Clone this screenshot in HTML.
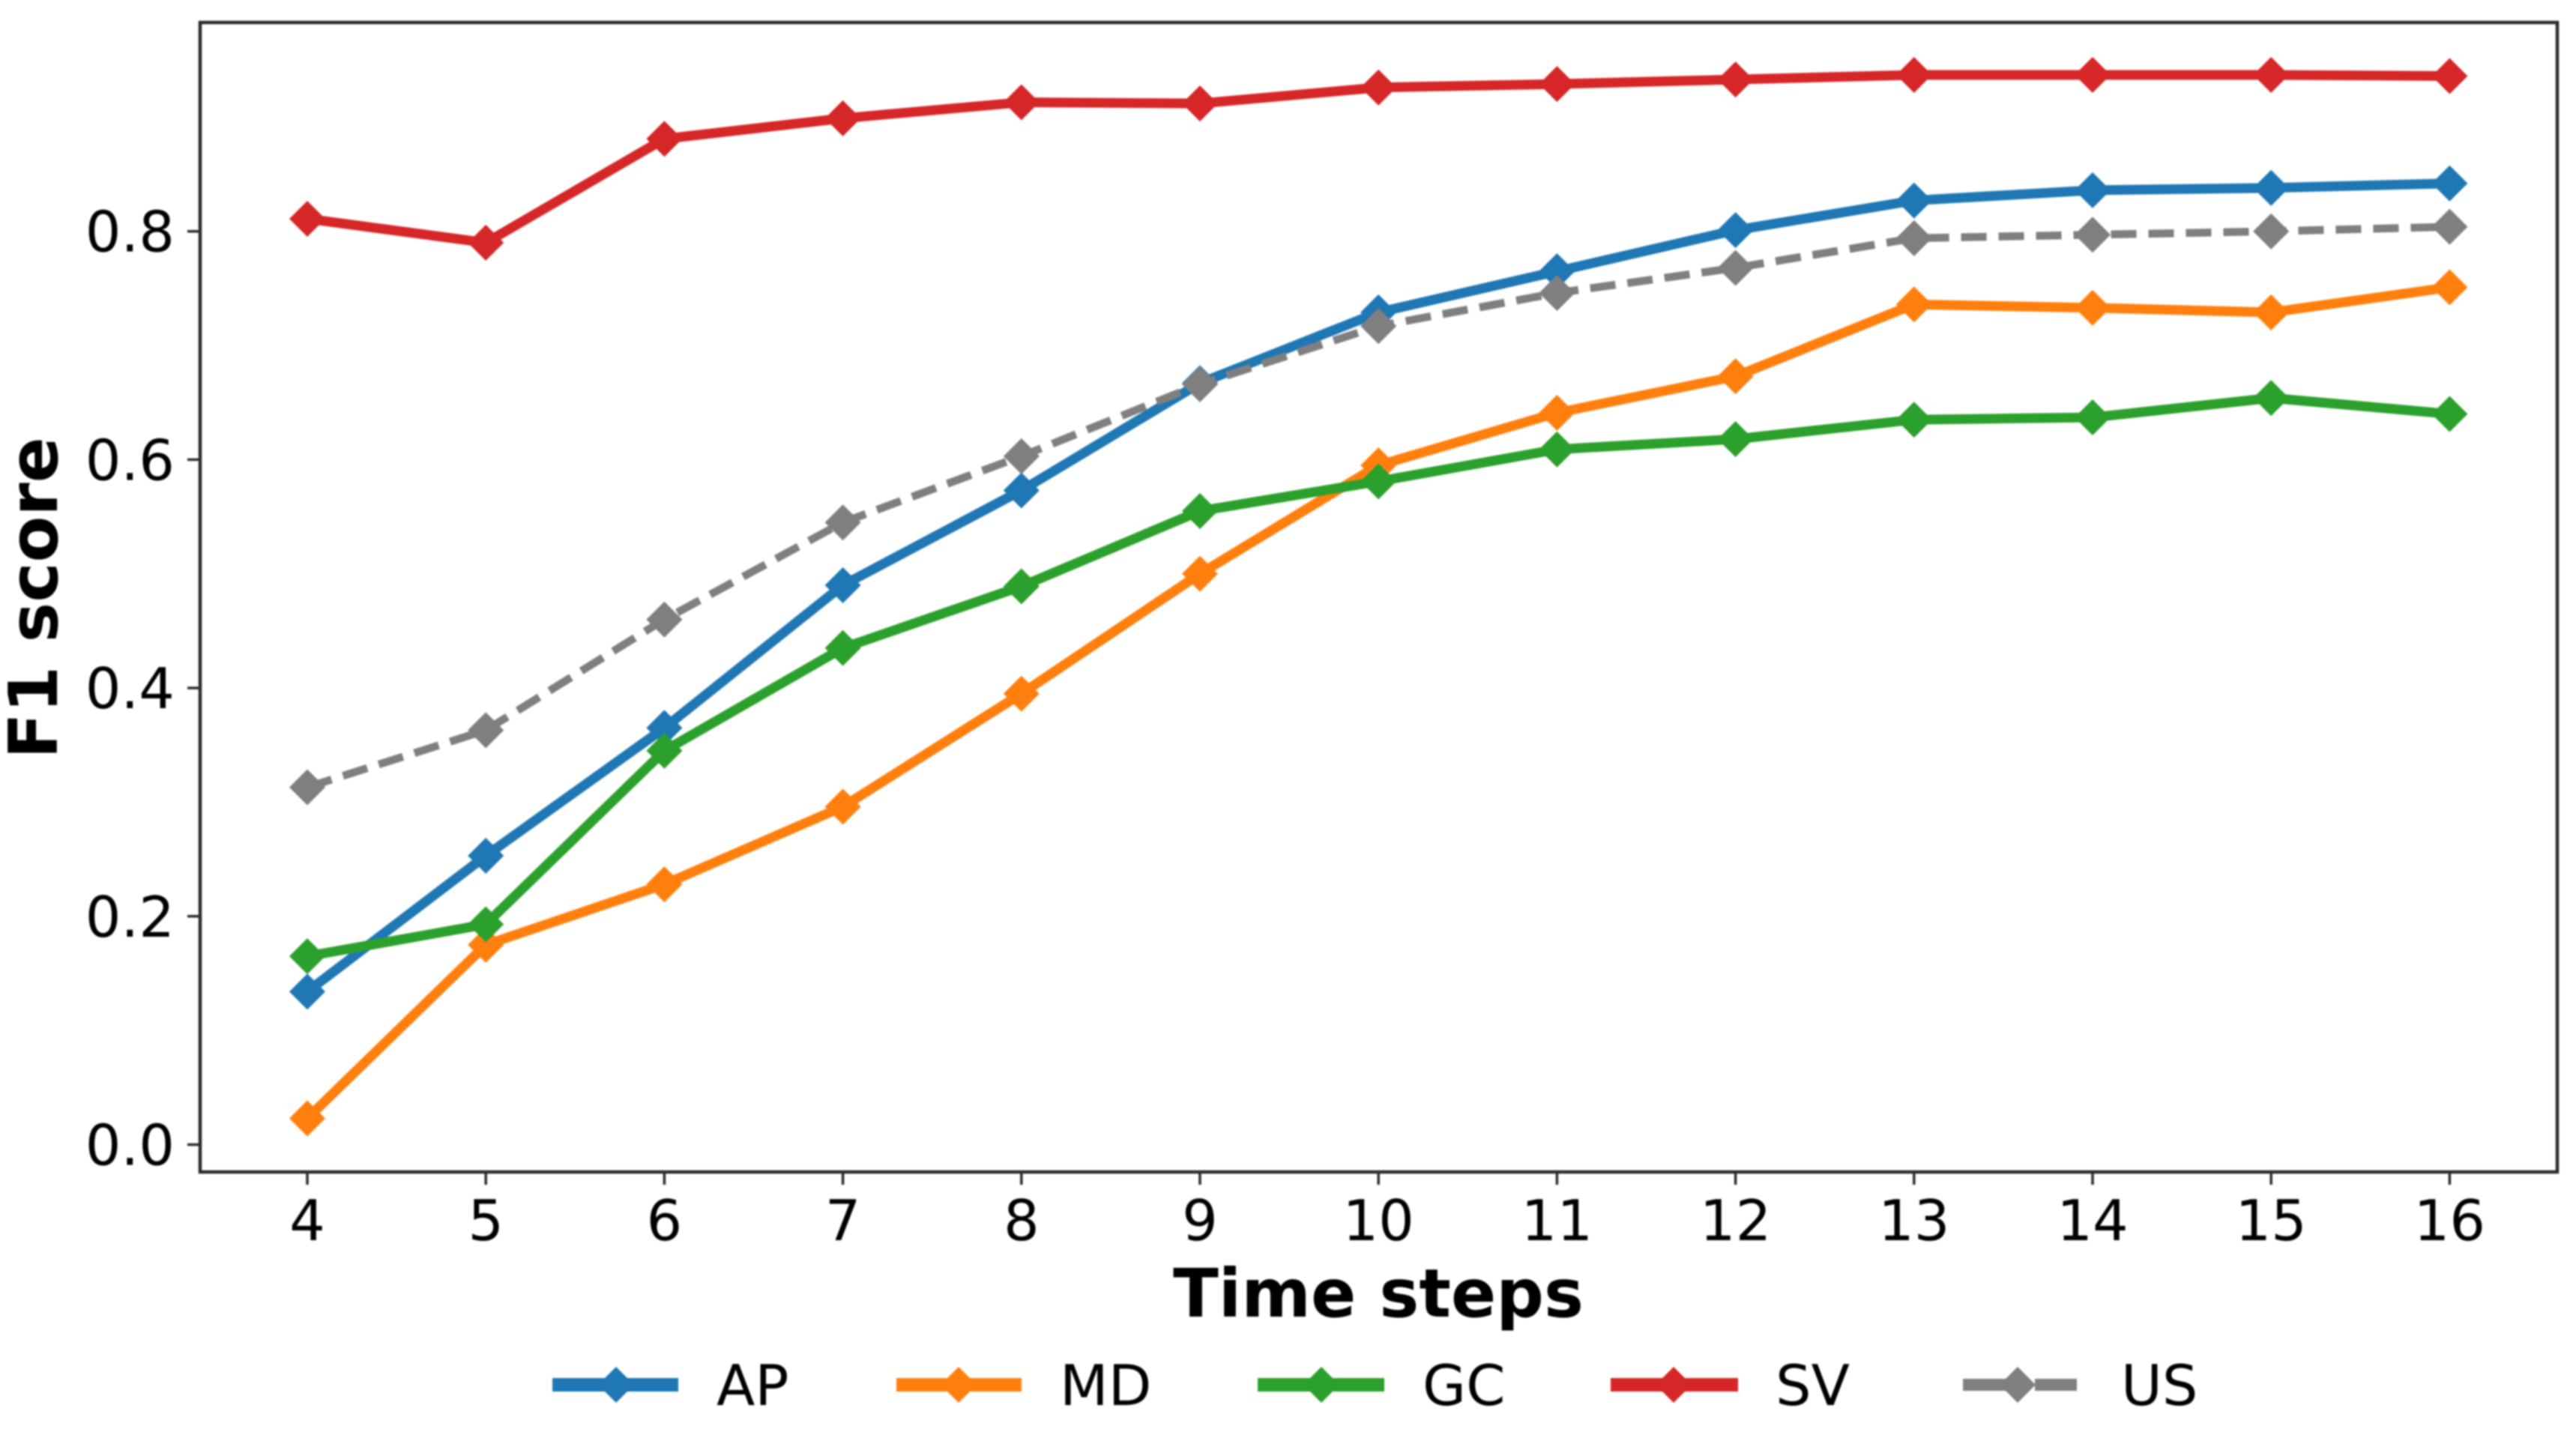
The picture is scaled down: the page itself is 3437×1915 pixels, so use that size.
<!DOCTYPE html>
<html lang="en">
<head>
<meta charset="utf-8">
<title>F1 score over time steps</title>
<style>
html,body{margin:0;padding:0;background:#fff;}
svg{display:block;filter:blur(1px);}
text{font-family:"DejaVu Sans","Liberation Sans",sans-serif;fill:#000;}
</style>
</head>
<body>
<svg id="chart" xmlns="http://www.w3.org/2000/svg" width="3437" height="1915" viewBox="0 0 3437 1915">
  <rect x="0" y="0" width="3437" height="1915" fill="#ffffff"/>
  <g id="ticks"></g>
  <g id="series"></g>
  <rect x="267" y="30" width="3145" height="1534" fill="none" stroke="#2b2b2b" stroke-width="4.5"/>
  <text x="1839" y="1757" font-size="89" font-weight="700" text-anchor="middle">Time steps</text>
  <text transform="translate(76 798) rotate(-90)" font-size="90" font-weight="700" text-anchor="middle">F1 score</text>

  <g>
    <g>
      <line x1="737" y1="1848" x2="905" y2="1848" stroke="#1f77b4" stroke-width="18"/>
      <polygon points="822,1824 846,1848 822,1872 798,1848" fill="#1f77b4"/>
      <text x="956" y="1875" font-size="75">AP</text>
    </g>
    <g>
      <line x1="1196" y1="1848" x2="1363" y2="1848" stroke="#ff7f0e" stroke-width="18"/>
      <polygon points="1279,1824 1303,1848 1279,1872 1255,1848" fill="#ff7f0e"/>
      <text x="1414" y="1875" font-size="75">MD</text>
    </g>
    <g>
      <line x1="1678" y1="1848" x2="1847" y2="1848" stroke="#2ca02c" stroke-width="18"/>
      <polygon points="1763,1824 1787,1848 1763,1872 1739,1848" fill="#2ca02c"/>
      <text x="1898" y="1875" font-size="75">GC</text>
    </g>
    <g>
      <line x1="2149" y1="1848" x2="2319" y2="1848" stroke="#d62728" stroke-width="18"/>
      <polygon points="2233,1824 2257,1848 2233,1872 2209,1848" fill="#d62728"/>
      <text x="2369" y="1875" font-size="75">SV</text>
    </g>
    <g>
      <line x1="2619" y1="1848" x2="2771" y2="1848" stroke="#7f7f7f" stroke-width="16" stroke-dasharray="72 24"/>
      <polygon points="2692,1824 2716,1848 2692,1872 2668,1848" fill="#7f7f7f"/>
      <text x="2830" y="1875" font-size="75">US</text>
    </g>
  </g>
</svg>
<script>
// Chart data
const timeSteps = [4, 5, 6, 7, 8, 9, 10, 11, 12, 13, 14, 15, 16];
const yTickValues = [0.0, 0.2, 0.4, 0.6, 0.8];
const apValues = [0.134, 0.253, 0.365, 0.490, 0.573, 0.667, 0.729, 0.765, 0.801, 0.827, 0.836, 0.838, 0.842];
const mdValues = [0.023, 0.175, 0.228, 0.296, 0.395, 0.500, 0.595, 0.641, 0.673, 0.736, 0.733, 0.729, 0.751];
const gcValues = [0.165, 0.193, 0.345, 0.435, 0.489, 0.555, 0.581, 0.609, 0.618, 0.635, 0.637, 0.654, 0.640];
const svValues = [0.811, 0.790, 0.881, 0.899, 0.913, 0.912, 0.926, 0.929, 0.933, 0.937, 0.937, 0.937, 0.936];
const usValues = [0.313, 0.363, 0.460, 0.545, 0.603, 0.666, 0.717, 0.746, 0.768, 0.794, 0.797, 0.800, 0.804];

const NS = 'http://www.w3.org/2000/svg';
function xScale(step) { return 410 + (step - 4) * 238.2; }
function yScale(v) { return 1527.5 - v * 1523.5; }

const ticksGroup = document.getElementById('ticks');
const seriesGroup = document.getElementById('series');

timeSteps.forEach(function (step) {
  const mark = document.createElementNS(NS, 'line');
  
  
  mark.setAttribute('x1', xScale(step));
  mark.setAttribute('x2', xScale(step));
  mark.setAttribute('y1', 1564);
  mark.setAttribute('y2', 1581);
  mark.setAttribute('stroke', '#2b2b2b');
  mark.setAttribute('stroke-width', 3.5);
  ticksGroup.appendChild(mark);
  const label = document.createElementNS(NS, 'text');
  
  
  label.setAttribute('x', xScale(step));
  label.setAttribute('y', 1655);
  label.setAttribute('font-size', 75);
  label.setAttribute('text-anchor', 'middle');
  label.textContent = String(step);
  ticksGroup.appendChild(label);
});

yTickValues.forEach(function (v) {
  const mark = document.createElementNS(NS, 'line');
  
  
  mark.setAttribute('x1', 250);
  mark.setAttribute('x2', 267);
  mark.setAttribute('y1', yScale(v));
  mark.setAttribute('y2', yScale(v));
  mark.setAttribute('stroke', '#2b2b2b');
  mark.setAttribute('stroke-width', 3.5);
  ticksGroup.appendChild(mark);
  const label = document.createElementNS(NS, 'text');
  
  
  label.setAttribute('x', 233);
  label.setAttribute('y', yScale(v) + 27);
  label.setAttribute('font-size', 75);
  label.setAttribute('text-anchor', 'end');
  label.textContent = v.toFixed(1);
  ticksGroup.appendChild(label);
});

function drawSeries(name, values, color, lineWidth, dash) {
  const group = document.createElementNS(NS, 'g');
  
  
  const line = document.createElementNS(NS, 'polyline');
  
  
  line.setAttribute('points', values.map(function (v, i) {
    return xScale(timeSteps[i]) + ',' + yScale(v);
  }).join(' '));
  line.setAttribute('fill', 'none');
  line.setAttribute('stroke', color);
  line.setAttribute('stroke-width', lineWidth);
  line.setAttribute('stroke-linejoin', 'round');
  if (dash) { line.setAttribute('stroke-dasharray', dash); }
  group.appendChild(line);
  values.forEach(function (v, i) {
    const cx = xScale(timeSteps[i]);
    const cy = yScale(v);
    const r = 24;
    const marker = document.createElementNS(NS, 'polygon');
    
    
    marker.setAttribute('points', [cx, cy - r, cx + r, cy, cx, cy + r, cx - r, cy].join(' '));
    marker.setAttribute('fill', color);
    group.appendChild(marker);
  });
  seriesGroup.appendChild(group);
}

drawSeries('ap', apValues, '#1f77b4', 13);
drawSeries('md', mdValues, '#ff7f0e', 13);
drawSeries('gc', gcValues, '#2ca02c', 13);
drawSeries('sv', svValues, '#d62728', 13);
drawSeries('us', usValues, '#7f7f7f', 10.5, '34 16');
</script>
</body>
</html>
